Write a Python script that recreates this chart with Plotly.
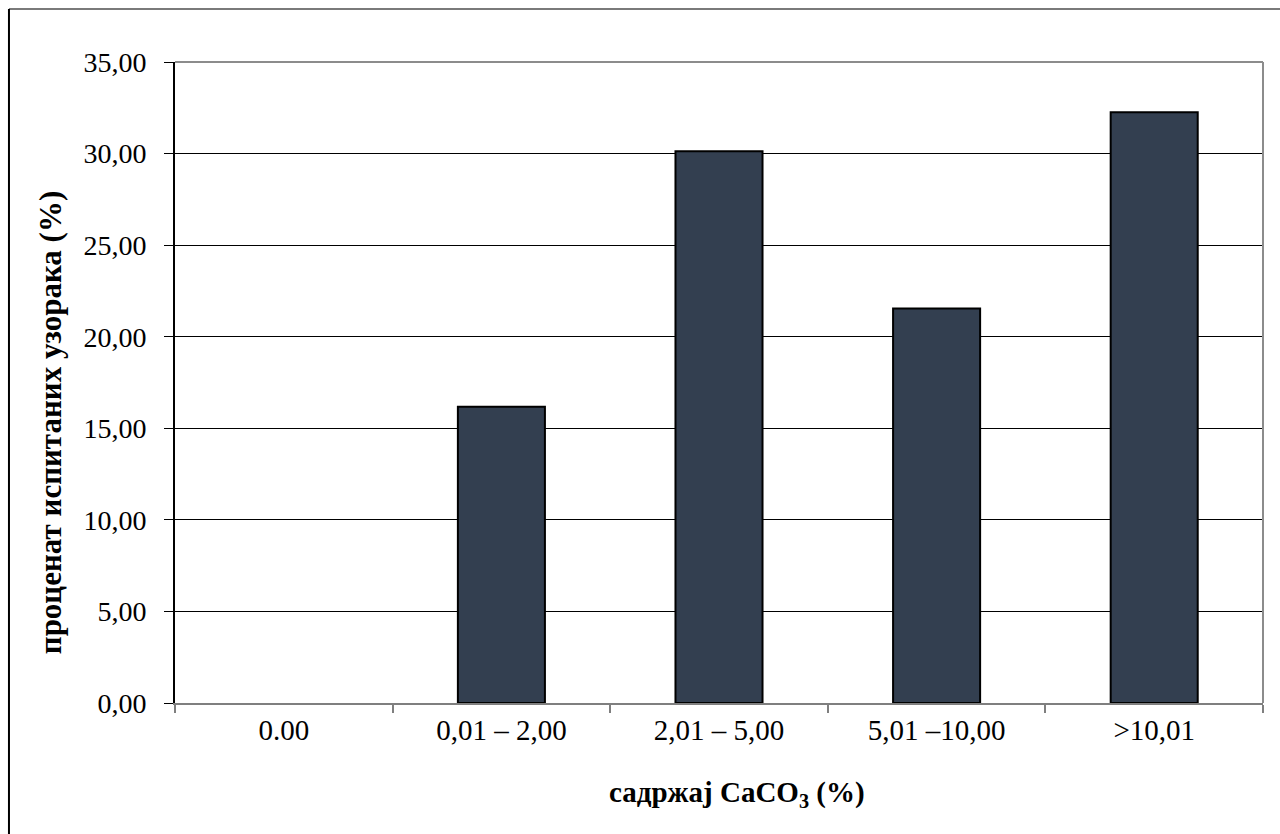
import plotly.graph_objects as go

categories = ["0.00", "0,01 – 2,00", "2,01 – 5,00", "5,01 –10,00", ">10,01"]
values = [0.0, 16.17, 30.13, 21.54, 32.26]
y_tick_vals = [0, 5, 10, 15, 20, 25, 30, 35]
y_tick_labels = ["0,00", "5,00", "10,00", "15,00", "20,00", "25,00", "30,00", "35,00"]
x_title = "садржај CaCO<sub>3</sub> (%)"
y_title = "проценат испитаних узорака (%)"

FONT = "Liberation Serif, Times New Roman, serif"
FS = 29

fig = go.Figure(go.Bar(
    x=categories, y=values,
    marker=dict(color="#333F50",
                line=dict(color="#000000", width=[2 if v > 0 else 0 for v in values])),
))

fig.update_layout(
    width=1280, height=834,
    margin=dict(l=175, r=17, t=62, b=131),
    paper_bgcolor="white", plot_bgcolor="white",
    bargap=0.6, showlegend=False,
    font=dict(family=FONT, size=FS, color="#000000"),
    xaxis=dict(
        type="category", showgrid=False, zeroline=False,
        showline=True, linecolor="#7f7f7f", linewidth=2, mirror=False,
        ticks="outside", tickson="boundaries", ticklen=8, tickcolor="#7f7f7f", tickwidth=2,
        tickfont=dict(family=FONT, size=FS, color="#000000"),
    ),
    yaxis=dict(
        range=[0, 35], tickvals=y_tick_vals, ticktext=y_tick_labels,
        showgrid=True, gridcolor="#000000", gridwidth=1, zeroline=False,
        showline=True, linecolor="#000000", linewidth=2,
        ticks="outside", ticklen=9, tickcolor="#000000", tickwidth=1,
        ticklabelstandoff=12,
        tickfont=dict(family=FONT, size=28, color="#000000"),
    ),
    shapes=[
        dict(type="line", xref="paper", yref="paper", x0=1, x1=1, y0=0, y1=1,
             line=dict(color="#8c8c8c", width=2)),
        dict(type="line", xref="paper", yref="paper", x0=0, x1=1, y0=1, y1=1,
             line=dict(color="#8c8c8c", width=2)),
        dict(type="line", xref="paper", yref="paper", x0=-0.1526, x1=1.2, y0=1.0827, y1=1.0827,
             line=dict(color="#7a7a7a", width=2)),
        dict(type="line", xref="paper", yref="paper", x0=-0.1526, x1=-0.1526, y0=-0.3, y1=1.0827,
             line=dict(color="#000000", width=2)),
    ],
    annotations=[
        dict(text="<b>" + x_title + "</b>", xref="paper", yref="paper",
             x=0.517, y=-0.142, xanchor="center", yanchor="middle", showarrow=False,
             font=dict(family=FONT, size=FS, color="#000000")),
        dict(text="<b>" + y_title + "</b>", xref="paper", yref="paper",
             x=-0.1149, y=0.438, xanchor="center", yanchor="middle", showarrow=False,
             textangle=-90, font=dict(family=FONT, size=31, color="#000000")),
    ],
)

fig.write_html("out.html")
